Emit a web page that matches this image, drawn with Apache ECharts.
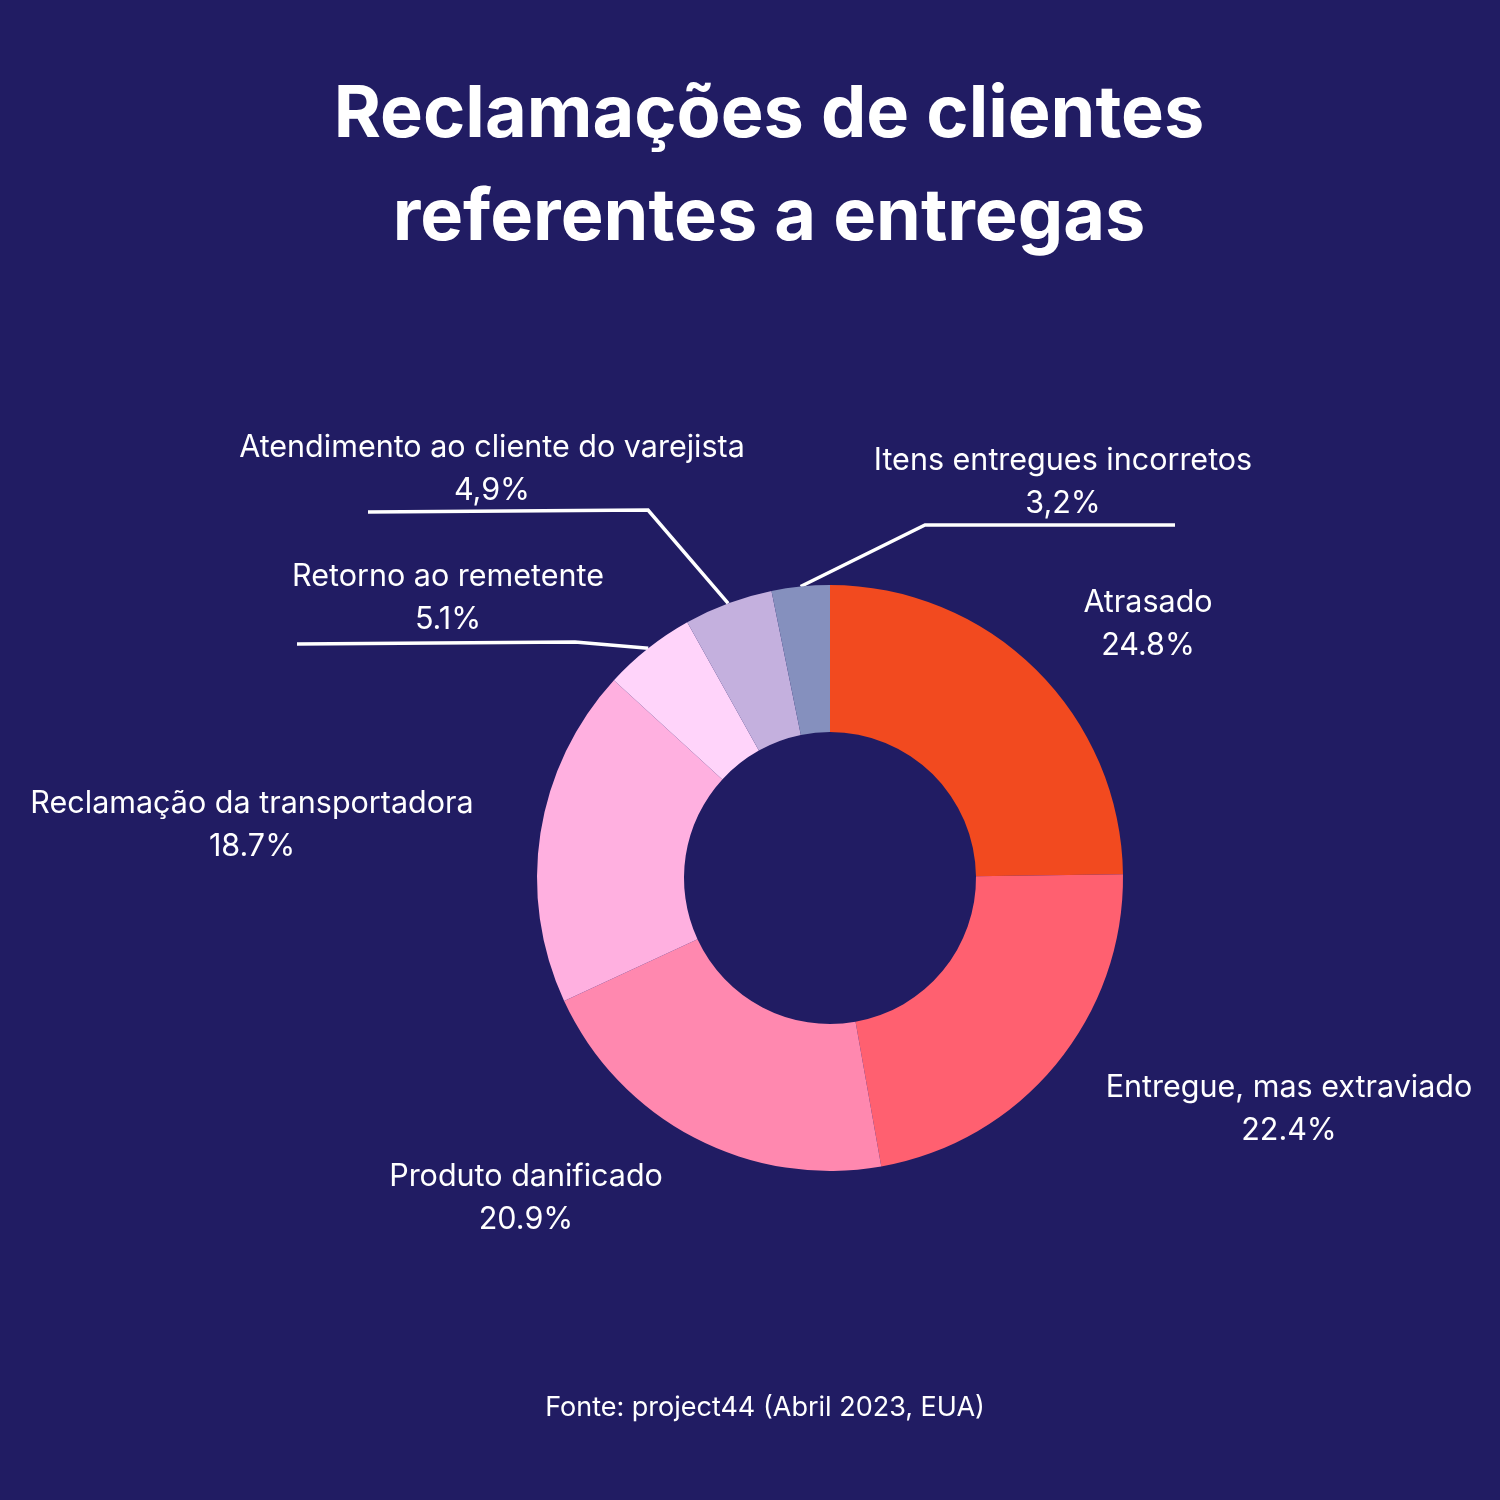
<!DOCTYPE html>
<html>
<head>
<meta charset="utf-8">
<script src="https://cdn.jsdelivr.net/npm/echarts@6/dist/echarts.min.js"></script>
<style>
  html, body { margin: 0; padding: 0; background: #211C63; }
  #chart { width: 1500px; height: 1500px; }
</style>
</head>
<body>
<div id="chart"></div>
<script>
// ---- Data ----
const categories = [
  'Atrasado',
  'Entregue, mas extraviado',
  'Produto danificado',
  'Reclamação da transportadora',
  'Retorno ao remetente',
  'Atendimento ao cliente do varejista',
  'Itens entregues incorretos'
];
const values = [24.8, 22.4, 20.9, 18.7, 5.1, 4.9, 3.2];
const valueLabels = ['24.8%', '22.4%', '20.9%', '18.7%', '5.1%', '4,9%', '3,2%'];
const titleLines = ['Reclamações de clientes', 'referentes a entregas'];
const sourceText = 'Fonte: project44 (Abril 2023, EUA)';

// ---- Styles / layout ----
const colors = ['#F24A1F', '#FF6070', '#FF88AF', '#FFB0E0', '#FFD4FA', '#C4B0DE', '#8590BE'];
const hasLeader = [false, false, false, false, true, true, true];
// label block centres
const labelPos = [
  [1148, 624], [1289, 1109], [526, 1198], [252, 825],
  [448, 598], [492, 469], [1063, 482]
];
// leader bends / ends relative to label centre
const leaderRel = {
  4: [[127, 44], [-151, 46]],
  5: [[156, 41], [-124, 43]],
  6: [[-138, 43], [112, 43]]
};

const chart = echarts.init(document.getElementById('chart'), null, { renderer: 'canvas' });

const option = {
  backgroundColor: '#211C63',
  textStyle: { fontFamily: 'Inter' },
  graphic: [
    {
      type: 'text', x: 769, y: 167,
      style: {
        text: titleLines.join('\n'),
        fill: '#ffffff',
        font: 'bold 72px Inter',
        lineHeight: 103,
        align: 'center',
        verticalAlign: 'middle'
      }
    },
    {
      type: 'text', x: 765, y: 1408,
      style: {
        text: sourceText,
        fill: '#ffffff',
        font: '27px Inter',
        align: 'center',
        verticalAlign: 'middle'
      }
    }
  ],
  series: [{
    type: 'pie',
    center: [830, 878],
    radius: [146, 293],
    startAngle: 90,
    clockwise: true,
    silent: true,
    avoidLabelOverlap: false,
    label: {
      show: true,
      position: 'outside',
      color: '#ffffff',
      fontFamily: 'Inter',
      fontSize: 30.5,
      lineHeight: 43,
      align: 'center',
      formatter: (p) => p.name + '\n' + valueLabels[p.dataIndex]
    },
    labelLine: {
      show: true,
      lineStyle: { color: '#ffffff', width: 3.5 }
    },
    labelLayout: function (params) {
      const i = params.dataIndex;
      const c = labelPos[i];
      const res = { x: c[0], y: c[1], align: 'center', verticalAlign: 'middle' };
      if (leaderRel[i] && params.labelLinePoints) {
        const start = params.labelLinePoints[0];
        res.labelLinePoints = [
          [start[0], start[1]],
          [c[0] + leaderRel[i][0][0], c[1] + leaderRel[i][0][1]],
          [c[0] + leaderRel[i][1][0], c[1] + leaderRel[i][1][1]]
        ];
      }
      return res;
    },
    data: categories.map((name, i) => ({
      name: name,
      value: values[i],
      itemStyle: { color: colors[i] },
      labelLine: { show: hasLeader[i], lineStyle: { color: '#ffffff', width: 3.5 } }
    }))
  }]
};

chart.setOption(option);
</script>
</body>
</html>
